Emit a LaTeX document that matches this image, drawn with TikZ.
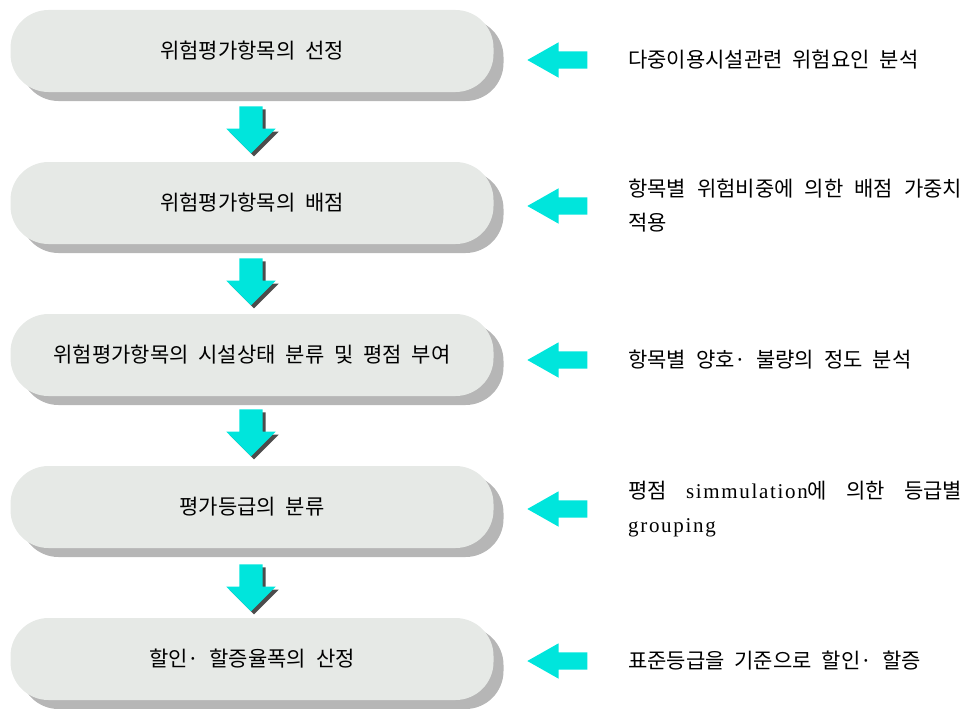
\documentclass[tikz,border=0pt]{standalone}
\usepackage{fontspec}
\setmainfont{Liberation Serif}
\newfontfamily\kr[WordSpace=2.1]{Noto Sans CJK KR}
\newfontfamily\lat[LetterSpace=8]{Liberation Serif}
\usetikzlibrary{shapes.arrows,shadows}

\definecolor{boxgray}{RGB}{230,233,230}
\definecolor{shadegray}{RGB}{182,182,182}
\definecolor{arrcyan}{RGB}{0,229,220}

\tikzset{
  stepbox/.style={fill=boxgray, rounded corners=38pt, minimum width=483pt,
    minimum height=82pt, inner sep=0pt,
    general shadow={fill=shadegray, shadow xshift=10pt, shadow yshift=-9pt},
    font=\kr\fontsize{21}{34}\selectfont},
  downarr/.style={single arrow, fill=arrcyan, inner sep=11.5pt,
    minimum width=49pt, minimum height=47pt, single arrow head extend=13pt,
    shape border rotate=270,
    general shadow={fill=black!70, shadow xshift=3pt, shadow yshift=-3pt}},
  leftarr/.style={single arrow, fill=arrcyan, inner sep=8.5pt,
    minimum width=35pt, minimum height=60pt, single arrow head extend=9pt,
    single arrow tip angle=59, shape border rotate=180},
  note/.style={anchor=west, text width=334pt, align=justify, inner sep=0pt,
    font=\kr\fontsize{21}{34}\selectfont}
}

\begin{document}
\begin{tikzpicture}[x=1pt,y=-1pt]

  \useasboundingbox (0,0) rectangle (964,709);

  % --- steps (left column) ---
  \node[stepbox] (box1) at (252,51)  {위험평가항목의 선정};
  \node[stepbox] (box2) at (252,203) {위험평가항목의 배점};
  \node[stepbox] (box3) at (252,355) {위험평가항목의 시설상태 분류 및 평점 부여};
  \node[stepbox] (box4) at (252,507) {평가등급의 분류};
  \node[stepbox] (box5) at (252,659) {할인· 할증율폭의 산정};

  % --- down arrows between steps ---
  \node[downarr] (dn1) at (251,124) {};
  \node[downarr] (dn2) at (251,276) {};
  \node[downarr] (dn3) at (251,427) {};
  \node[downarr] (dn4) at (251,582) {};

  % --- left arrows (input to each step) ---
  \node[leftarr] (lt1) at (565,60)  {};
  \node[leftarr] (lt2) at (565,206) {};
  \node[leftarr] (lt3) at (565,360) {};
  \node[leftarr] (lt4) at (565,509) {};
  \node[leftarr] (lt5) at (565,661) {};

  % --- notes (right column) ---
  \node[note] (note1) at (628,60)  {다중이용시설관련 위험요인 분석};
  \node[note] (note2) at (628,206) {항목별 위험비중에 의한 배점 가중치\linebreak 적용};
  \node[note] (note3) at (628,360) {항목별 양호· 불량의 정도 분석};
  \node[note] (note4) at (628,509) {평점 {\lat simmulation}에 의한 등급별\linebreak {\lat grouping}};
  \node[note] (note5) at (628,661) {표준등급을 기준으로 할인· 할증};

\end{tikzpicture}
\end{document}
